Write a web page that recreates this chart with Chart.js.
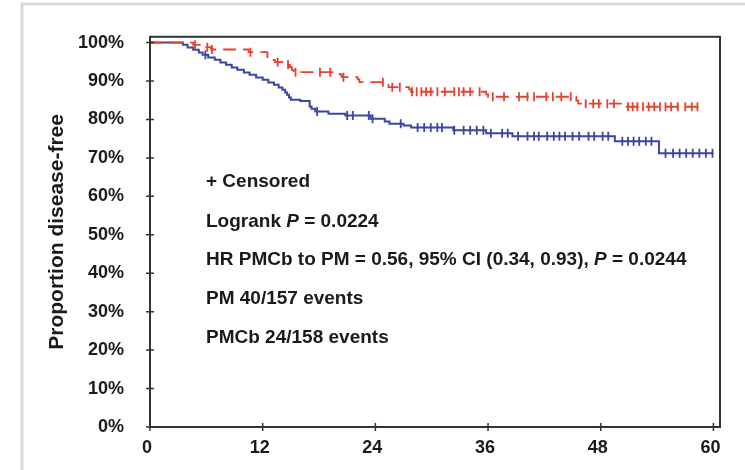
<!DOCTYPE html>
<html>
<head>
<meta charset="utf-8">
<script src="https://cdn.jsdelivr.net/npm/chart.js@4.4.1/dist/chart.umd.min.js"></script>
<style>
    html, body { margin: 0; padding: 0; background: #fff; }
</style>
</head>
<body>
<canvas id="grafico-km" width="745" height="470"></canvas>
<script>
// Eixos
const mesesTicks = [0, 12, 24, 36, 48, 60];
const percTicks = [0, 10, 20, 30, 40, 50, 60, 70, 80, 90, 100];

// PM (azul): tempos dos eventos e sobrevida após cada evento
const pmTempos = [0, 3.5, 4.0, 4.6, 5.2, 5.6, 6.2, 6.9, 7.5, 8.1, 8.7, 9.3, 10.0, 10.6, 11.3, 12.0, 12.6, 13.2, 13.7, 14.1, 14.4, 14.6, 14.8, 15.0, 16.0, 17.0, 17.2, 17.6, 19.0, 20.8, 23.5, 25.0, 25.5, 27.0, 27.8, 32.3, 35.8, 38.6, 49.5, 54.2, 60.0];
const pmSobrevida = [100, 99.4, 98.7, 98.1, 97.4, 96.8, 96.1, 95.5, 94.8, 94.2, 93.5, 92.9, 92.2, 91.6, 90.9, 90.3, 89.6, 89.0, 88.3, 87.7, 87.0, 86.4, 85.7, 85.1, 84.8, 83.4, 82.8, 82.1, 81.5, 81.0, 80.2, 79.5, 78.9, 78.4, 77.9, 77.2, 76.4, 75.6, 74.3, 71.2, 71.2];
const pmCensurados = [5.9, 17.8, 21.0, 21.6, 23.3, 23.7, 26.7, 28.5, 29.2, 29.9, 30.6, 31.1, 32.4, 33.4, 34.1, 34.8, 35.5, 36.3, 37.5, 38.1, 39.2, 40.2, 40.9, 41.4, 42.3, 43.0, 43.6, 44.2, 45.0, 45.7, 46.7, 47.3, 48.2, 48.8, 50.3, 50.9, 51.5, 52.1, 52.8, 53.4, 54.9, 55.7, 56.4, 57.1, 57.8, 58.5, 59.2, 59.9];

// PMCb (vermelho)
const pmcbTempos = [0, 4.6, 5.5, 6.5, 10.5, 12.5, 13.0, 13.3, 14.6, 14.9, 15.1, 15.3, 20.2, 20.4, 22.1, 22.3, 25.2, 25.4, 27.6, 27.8, 35.8, 36.0, 45.4, 45.6, 50.3, 58.4];
const pmcbSobrevida = [100, 99.4, 98.8, 98.2, 97.5, 96.2, 95.5, 94.9, 94.2, 93.6, 92.9, 92.3, 91.7, 91.0, 90.4, 89.7, 89.0, 88.4, 87.8, 87.2, 86.5, 85.9, 84.9, 84.1, 83.3, 83.3];
const pmcbCensurados = [4.8, 6.1, 6.6, 10.7, 13.6, 14.7, 15.5, 18.1, 19.2, 20.6, 24.8, 25.8, 26.6, 27.9, 28.4, 28.9, 29.4, 29.9, 30.6, 31.4, 32.4, 32.9, 33.4, 34.1, 35.1, 36.5, 37.7, 39.3, 40.2, 40.9, 42.2, 42.9, 43.8, 44.8, 46.4, 47.2, 47.8, 48.7, 49.4, 50.9, 51.4, 51.9, 52.5, 53.1, 53.7, 54.3, 54.9, 55.5, 56.2, 57.0, 57.7, 58.3];

// Textos da legenda interna
const linhasTexto = [
    [{ t: '+ Censored' }],
    [{ t: 'Logrank ' }, { t: 'P', it: true }, { t: ' = 0.0224' }],
    [{ t: 'HR PMCb to PM = 0.56, 95% CI (0.34, 0.93), ' }, { t: 'P', it: true }, { t: ' = 0.0244' }],
    [{ t: 'PM 40/157 events' }],
    [{ t: 'PMCb 24/158 events' }]
];

const FONTE = '"Liberation Sans", Arial, sans-serif';

// Valor da curva no tempo t (para posicionar as marcas de censura)
function sobrevidaEm(tempos, sobrevida, t) {
    let s = sobrevida[0];
    for (let i = 0; i < tempos.length; i++) {
        if (tempos[i] <= t) s = sobrevida[i];
    }
    return s;
}

function pontos(tempos, valores) {
    return tempos.map((t, i) => ({ x: t, y: valores[i] }));
}

function censuras(cens, tempos, sobrevida) {
    return cens.map(t => ({ x: t, y: sobrevidaEm(tempos, sobrevida, t) }));
}

const azul = '#3b45a3';
const vermelho = '#e8402f';

const molduraPlugin = {
    id: 'moldura',
    beforeDraw(chart) {
        const ctx = chart.ctx;
        ctx.save();
        ctx.fillStyle = '#fff';
        ctx.fillRect(0, 0, chart.width, chart.height);
        ctx.strokeStyle = '#dadada';
        ctx.lineWidth = 3;
        ctx.beginPath();
        ctx.moveTo(22, chart.height);
        ctx.lineTo(22, 4);
        ctx.lineTo(chart.width, 4);
        ctx.stroke();
        ctx.restore();
    },
    afterDraw(chart) {
        const { ctx, chartArea: a, scales } = chart;
        ctx.save();
        ctx.strokeStyle = '#333';
        ctx.lineWidth = 2;
        ctx.strokeRect(a.left, a.top, a.right - a.left, a.bottom - a.top);
        ctx.lineWidth = 1.5;
        ctx.beginPath();
        scales.y.ticks.forEach(t => {
            const py = scales.y.getPixelForValue(t.value);
            ctx.moveTo(a.left - 4, py);
            ctx.lineTo(a.left + 4, py);
        });
        scales.x.ticks.forEach(t => {
            const px = scales.x.getPixelForValue(t.value);
            ctx.moveTo(px, a.bottom - 4);
            ctx.lineTo(px, a.bottom + 4);
        });
        ctx.stroke();

        ctx.fillStyle = '#1a1a1a';
        ctx.textBaseline = 'middle';
        const ys = [182, 222, 260, 299, 338];
        linhasTexto.forEach((partes, i) => {
            let x = 206;
            partes.forEach(p => {
                ctx.font = (p.it ? 'italic ' : '') + 'bold 19px ' + FONTE;
                ctx.fillText(p.t, x, ys[i]);
                x += ctx.measureText(p.t).width;
            });
        });
        ctx.restore();
    }
};

function gerarGrafico() {
    const ctx = document.getElementById('grafico-km').getContext('2d');

    new Chart(ctx, {
        type: 'line',
        data: {
            datasets: [
                {
                    label: 'PMCb censored',
                    data: censuras(pmcbCensurados, pmcbTempos, pmcbSobrevida),
                    showLine: false,
                    pointStyle: 'line',
                    rotation: 90,
                    pointRadius: 4.5,
                    borderColor: vermelho,
                    pointBorderWidth: 1.8,
                    order: 0
                },
                {
                    label: 'PMCb',
                    data: pontos(pmcbTempos, pmcbSobrevida),
                    stepped: 'before',
                    borderColor: vermelho,
                    borderWidth: 1.8,
                    borderDash: [13, 7],
                    pointRadius: 0,
                    fill: false,
                    order: 1
                },
                {
                    label: 'PM censored',
                    data: censuras(pmCensurados, pmTempos, pmSobrevida),
                    showLine: false,
                    pointStyle: 'line',
                    rotation: 90,
                    pointRadius: 4.5,
                    borderColor: azul,
                    pointBorderWidth: 1.8,
                    order: 2
                },
                {
                    label: 'PM',
                    data: pontos(pmTempos, pmSobrevida),
                    stepped: 'before',
                    borderColor: azul,
                    borderWidth: 2,
                    pointRadius: 0,
                    fill: false,
                    order: 3
                }
            ]
        },
        options: {
            responsive: false,
            animation: false,
            layout: { padding: { left: 0, top: 32, right: 25, bottom: 0 } },
            scales: {
                x: {
                    type: 'linear',
                    min: 0,
                    max: 60.7,
                    afterBuildTicks: s => { s.ticks = mesesTicks.map(v => ({ value: v })); },
                    afterFit: s => { s.height = 43; },
                    grid: { display: false, drawTicks: false },
                    border: { display: false },
                    ticks: {
                        padding: 10,
                        labelOffset: -3,
                        maxRotation: 0,
                        color: '#1a1a1a',
                        font: { family: FONTE, size: 18, weight: 'bold' }
                    }
                },
                y: {
                    min: 0,
                    max: 101.5,
                    afterBuildTicks: s => { s.ticks = percTicks.map(v => ({ value: v })); },
                    afterFit: s => { s.width = 150; },
                    grid: { display: false, drawTicks: false },
                    border: { display: false },
                    ticks: {
                        padding: 26,
                        color: '#1a1a1a',
                        font: { family: FONTE, size: 18, weight: 'bold' },
                        callback: v => v + '%'
                    },
                    title: {
                        display: true,
                        text: 'Proportion disease-free',
                        color: '#1a1a1a',
                        font: { family: FONTE, size: 21, weight: 'bold' },
                        padding: { top: 45, bottom: 0 }
                    }
                }
            },
            plugins: {
                legend: { display: false },
                tooltip: { enabled: false }
            }
        },
        plugins: [molduraPlugin]
    });
}

window.onload = function () {
    gerarGrafico();
};
</script>
</body>
</html>
